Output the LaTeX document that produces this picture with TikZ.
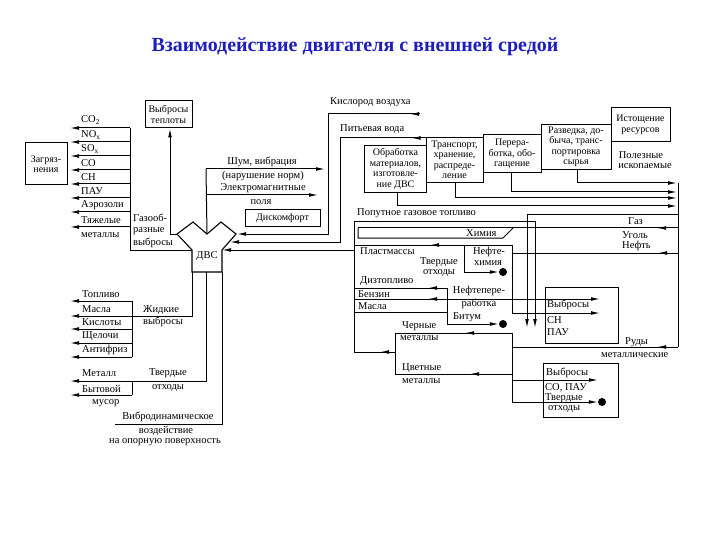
\documentclass[tikz,border=0pt]{standalone}
\usepackage{fontspec}
\setmainfont{Liberation Serif}
\usetikzlibrary{arrows.meta,decorations.markings}
\newcommand\dfs{\fontsize{10.5}{10.5}\selectfont}
\newcommand\bfs{\fontsize{10}{10.5}\selectfont}
\definecolor{titleblue}{RGB}{30,30,190}
\begin{document}
\begin{tikzpicture}[x=1pt,y=-1pt,
  ln/.style={line width=1pt},
  arr/.style={ln,-{Latex[length=9pt,width=3.8pt]}},
  arrowat/.style={postaction={decorate},decoration={markings,mark=at position #1 with {\arrow{Latex[length=9pt,width=3.8pt]}}}},
  box/.style={draw,line width=1pt,inner sep=0pt,align=center,font=\bfs},
  lbl/.style={font=\dfs,inner sep=0pt,anchor=west},
  clbl/.style={font=\dfs,inner sep=0pt,anchor=center},
  dotc/.style={fill,circle,inner sep=0pt,minimum size=8pt}]
\useasboundingbox (0,0) rectangle (720,540);

\node[font=\bfseries\fontsize{20}{22}\selectfont,text=titleblue] (title) at (355,47) {Взаимодействие двигателя с внешней средой};

% ---------- DVS ----------
\draw[line width=1.1pt] (177,234) -- (193,222) -- (207,234) -- (221,222) -- (236,234) -- (222,250) -- (222,272) -- (192,272) -- (192,250) -- cycle;
\node[font=\dfs] (dvs) at (207,256) {ДВС};
\coordinate (dvsL) at (177,234);
\coordinate (dvsGas) at (192,250);
\coordinate (dvsMid) at (207,234);
\coordinate (dvsR1) at (237,234);
\coordinate (dvsR2) at (230,242);
\coordinate (dvsR3) at (222,250);
\coordinate (dvsBL) at (192,272);
\coordinate (dvsBM) at (206,272);
\coordinate (dvsBR) at (222,272);

% ---------- boxes ----------
\node[box,minimum width=47,minimum height=27] (vteplo) at (168.5,114.5) {Выбросы\\теплоты};
\node[box,minimum width=42,minimum height=42] (zagr) at (46,164) {Загряз-\\нения};
\node[box,minimum width=75,minimum height=17] (diskomf) at (282.5,218.5) {Дискомфорт};
\node[box,minimum width=62,minimum height=47] (obrab) at (395.5,169) {Обработка\\материалов,\\изготовле-\\ние ДВС};
\node[box,minimum width=57,minimum height=45] (transp) at (454.5,160) {Транспорт,\\хранение,\\распреде-\\ление};
\node[box,minimum width=58,minimum height=38] (pererab) at (512,154) {Перера-\\ботка, обо-\\гащение};
\node[box,minimum width=70,minimum height=45] (razved) at (576,147) {Разведка, до-\\быча, транс-\\портировка\\сырья};
\node[box,minimum width=59,minimum height=34] (istosh) at (640.5,125) {Истощение\\ресурсов};
\node[box,minimum width=73,minimum height=56] (vyb1) at (581.5,315) {};
\node[box,minimum width=75,minimum height=54] (vyb2) at (580.5,390) {};

% ---------- gaseous emissions ----------
\draw[ln] (dvsGas) -- (130,250) -- (130,128);
\foreach \yy in {128,142,156,170,184,198,212,227} {\draw[arr] (130,\yy) -- (70,\yy);}
\node[lbl] (g1) at (81,120) {CO\textsubscript{2}};
\node[lbl] (g2) at (81,135) {NO\textsubscript{x}};
\node[lbl] (g3) at (81,149) {SO\textsubscript{x}};
\node[lbl] (g4) at (81,163) {CO};
\node[lbl] (g5) at (81,177) {CH};
\node[lbl] (g6) at (81,191) {ПАУ};
\node[lbl] (g7) at (81,205) {Аэрозоли};
\node[lbl] (g8) at (81,220) {Тяжелые};
\node[lbl] (g9) at (81,235) {металлы};
\node[lbl] (gl1) at (133,218) {Газооб-};
\node[lbl] (gl2) at (133,231) {разные};
\node[lbl] (gl3) at (133,243) {выбросы};

% heat
\draw[arr] (dvsL) -- (170,234) -- (vteplo.south -| 170,0);

% ---------- liquid ----------
\draw[ln] (dvsBL) -- (192,316) -- (132,316);
\draw[ln] (132,301) -- (132,357);
\foreach \yy in {301,316,329,343,357} {\draw[arr] (132,\yy) -- (70,\yy);}
\node[lbl] (l1) at (82,294) {Топливо};
\node[lbl] (l2) at (82,309) {Масла};
\node[lbl] (l3) at (82,322) {Кислоты};
\node[lbl] (l4) at (82,336) {Щелочи};
\node[lbl] (l5) at (82,350) {Антифриз};
\node[lbl] (ll1) at (143,310) {Жидкие};
\node[lbl] (ll2) at (143,322) {выбросы};

% ---------- solid ----------
\draw[ln] (dvsBM) -- (206,381) -- (132,381) -- (132,395);
\draw[arr] (132,381) -- (70,381);
\draw[arr] (132,395) -- (70,395);
\node[lbl] (s1) at (82,373) {Металл};
\node[lbl] (s2) at (82,389) {Бытовой};
\node[lbl] (s3) at (92,403) {мусор};
\node[clbl] (sl1) at (168,373) {Твердые};
\node[clbl] (sl2) at (168,388) {отходы};

% ---------- vibro ----------
\draw[ln] (dvsBR) -- (222,424) -- (115,424);
\node[clbl] (v1) at (168,417) {Вибродинамическое};
\node[clbl] (v2) at (166,431) {воздействие};
\node[clbl] (v3) at (165,442) {на опорную поверхность};

% ---------- noise ----------
\draw[ln] (dvsMid) -- (206,169);
\draw[arr] (206,169) -- (325,169);
\draw[arr] (206,195) -- (318,195);
\node[clbl] (n1) at (262,162) {Шум, вибрация};
\node[clbl] (n2) at (263,176) {(нарушение норм)};
\node[clbl] (n3) at (263,188) {Электромагнитные};
\node[clbl] (n4) at (261,202) {поля};

% ---------- oxygen, water ----------
\node[lbl] (ox) at (330,102) {Кислород воздуха};
\draw[arr,arrowat=10pt] (420,114) -- (328,114) -- (328,234) -- (dvsR1);
\node[lbl] (wat) at (340,129) {Питьевая вода};
\draw[arr,arrowat=14pt] (transp.west |- 0,138) -- (340,138) -- (340,242) -- (dvsR2);
\draw[arr] (354,250) -- (dvsR3);

% ---------- upper chain outputs ----------
\draw[arr] (obrab.south -| 397,0) -- (397,206) -- (677,206);
\draw[arr] (transp.south -| 455,0) -- (455,198) -- (677,198);
\draw[arr] (pererab.south -| 511,0) -- (511,192) -- (677,192);
\draw[arr] (razved.south -| 577,0) -- (577,183) -- (677,183);
\node[clbl] (pi1) at (641,155) {Полезные};
\node[clbl] (pi2) at (645,166) {ископаемые};

% right bus
\draw[ln] (678,183) -- (678,347);
\draw[arr] (678,215) -- (527,215) -- (527,328);
\draw[arr] (354,352) -- (354,222) -- (535,222) -- (535,328);
\node[lbl] (pop) at (357,213) {Попутное газовое топливо};

% gas / chemistry
\draw[ln,arrowat=21pt] (678,228) -- (358,228);
\draw[ln] (513,228) -- (503,238) -- (358,238) -- (358,228);
\node[lbl] (him) at (466,233) {Химия};
\node[lbl] (gaz) at (628,221) {Газ};
\node[lbl] (ugol) at (622,235) {Уголь};
\node[lbl] (neft) at (622,246) {Нефть};
\draw[ln,arrowat=20pt] (678,253) -- (512,253);

% petrochemistry
\draw[ln] (512,313) -- (512,245);
\draw[ln,arrowat=82pt] (512,245) -- (354,245);
\draw[arr] (512,313) -- (600,313);
\draw[ln] (464,245) -- (464,272);
\node[dotc] (dot1) at (503,272) {};
\draw[arr] (464,272) -- (dot1.west);
\node[lbl] (pl) at (360,251) {Пластмассы};
\node[clbl] (nh1) at (489,252) {Нефте-};
\node[clbl] (nh2) at (488,263) {химия};
\node[clbl] (to1) at (439,262) {Твердые};
\node[clbl] (to2) at (439,273) {отходы};

% refining
\draw[ln] (447,288) -- (447,324);
\draw[ln,arrowat=19pt] (447,288) -- (354,288);
\draw[ln,arrowat=19pt] (447,299) -- (354,299);
\draw[ln] (447,312) -- (354,312);
\draw[arr] (447,299) -- (600,299);
\node[dotc] (dot2) at (503,324) {};
\draw[arr] (447,324) -- (dot2.west);
\node[lbl] (dz) at (360,281) {Дизтопливо};
\node[lbl] (bz) at (358,294) {Бензин};
\node[lbl] (ms) at (358,306) {Масла};
\node[clbl] (np1) at (479,291) {Нефтепере-};
\node[clbl] (np2) at (479,304) {работка};
\node[lbl] (bt) at (453,317) {Битум};

% emissions box 1 texts
\node[lbl] (e1) at (547,305) {Выбросы};
\node[lbl] (e2) at (547,320) {CH};
\node[lbl] (e3) at (547,332) {ПАУ};

% metallurgy
\draw[ln] (512,333) -- (512,402);
\draw[ln,arrowat=47pt] (512,333) -- (395,333) -- (395,374);
\draw[ln,arrowat=42pt] (512,374) -- (395,374);
\draw[ln,arrowat=15pt] (395,352) -- (354,352);
\draw[ln,arrowat=21pt] (678,347) -- (512,347);
\draw[arr] (512,380) -- (598,380);
\node[dotc] (dot3) at (602,402) {};
\draw[arr] (512,402) -- (dot3.west);
\node[lbl] (m1) at (402,326) {Черные};
\node[lbl] (m2) at (400,338) {металлы};
\node[lbl] (m3) at (402,368) {Цветные};
\node[lbl] (m4) at (402,381) {металлы};
\node[lbl] (ru1) at (625,342) {Руды};
\node[lbl] (ru2) at (601,355) {металлические};
\node[lbl] (f1) at (546,373) {Выбросы};
\node[lbl] (f2) at (545,388) {CO, ПАУ};
\node[lbl] (f3) at (545,398) {Твердые};
\node[lbl] (f4) at (548,409) {отходы};
\end{tikzpicture}
\end{document}
